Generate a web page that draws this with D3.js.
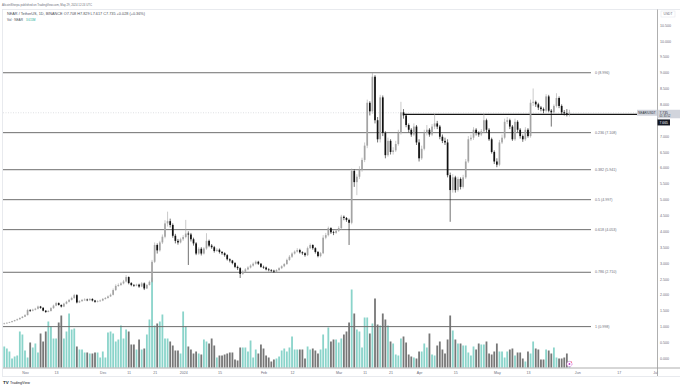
<!DOCTYPE html>
<html>
<head>
<meta charset="utf-8">
<script src="https://cdn.jsdelivr.net/npm/d3@7"></script>
<style>
  body { margin: 0; background: #fff; }
  svg { display: block; font-family: "Liberation Sans", Arial, sans-serif; }
</style>
</head>
<body>
<svg id="chart" width="680" height="388"></svg>
<script>
// NEAR / USDT daily, 2023-10-24 .. 2024-05-29
var firstDay = "2023-10-24";

var open = [
  1.08,1.10,1.12,1.14,1.17,1.20,1.23,1.27,1.31,1.36,
  1.52,1.50,1.53,1.56,1.63,1.59,1.50,1.46,1.49,1.58,
  1.66,1.74,1.68,1.63,1.72,1.78,1.84,1.90,1.99,1.76,
  1.80,1.84,1.85,1.83,1.87,1.82,1.78,1.80,1.82,1.87,
  1.90,1.95,2.00,2.15,2.28,2.31,2.36,2.42,2.56,2.37,
  2.31,2.29,2.32,2.26,2.36,2.20,2.31,2.41,3.04,3.57,
  3.40,3.65,3.83,4.25,4.32,4.20,3.86,3.70,3.65,3.75,
  3.82,3.93,3.90,3.75,3.62,3.30,3.45,3.30,3.46,3.70,
  3.55,3.50,3.38,3.42,3.35,3.31,3.25,3.12,3.08,3.00,
  2.88,2.84,2.66,2.73,2.80,2.86,2.92,2.98,3.04,2.98,
  2.88,2.86,2.80,2.78,2.76,2.73,2.78,2.84,2.90,2.97,
  3.10,3.20,3.30,3.36,3.41,3.34,3.31,3.25,3.47,3.57,
  3.47,3.35,3.22,3.31,3.80,3.88,4.10,3.97,3.95,4.02,
  4.10,4.46,4.42,4.36,4.27,5.90,5.55,5.72,5.95,6.25,
  6.70,8.05,7.78,8.87,7.50,6.90,8.22,7.10,6.40,6.85,
  6.50,6.55,6.75,7.10,7.75,7.65,7.35,7.20,7.05,7.30,
  6.80,6.30,6.60,7.10,7.20,7.05,7.30,7.40,7.30,6.98,
  6.85,6.80,5.77,5.30,5.70,5.30,5.65,5.40,5.70,6.20,
  6.90,6.95,7.20,7.10,7.05,7.15,7.50,7.20,6.90,6.50,
  6.20,6.10,6.80,6.95,7.45,7.50,7.30,6.90,7.45,7.20,
  7.00,6.90,7.20,7.00,8.05,8.08,8.00,7.90,7.85,7.80,
  8.25,7.80,7.75,7.95,8.20,7.95,7.75,7.72,7.708
];
var high = [
  1.12,1.13,1.15,1.18,1.21,1.25,1.29,1.33,1.39,1.56,
  1.55,1.56,1.59,1.66,1.65,1.61,1.52,1.52,1.61,1.69,
  1.78,1.76,1.70,1.75,1.81,1.87,1.94,2.03,2.02,1.83,
  1.87,1.89,1.88,1.90,1.89,1.84,1.83,1.85,1.90,1.93,
  1.98,2.04,2.20,2.33,2.36,2.40,2.47,2.62,2.58,2.40,
  2.34,2.35,2.35,2.40,2.39,2.34,2.45,3.10,3.65,3.62,
  3.70,3.90,4.35,4.62,4.40,4.25,3.92,3.76,3.80,3.88,
  4.36,4.00,3.95,3.80,3.66,3.50,3.50,3.50,3.94,3.74,
  3.60,3.54,3.47,3.46,3.38,3.34,3.28,3.15,3.10,3.03,
  2.92,2.87,2.78,2.84,2.90,2.96,3.02,3.08,3.07,3.00,
  2.92,2.89,2.84,2.81,2.79,2.81,2.87,2.93,3.00,3.14,
  3.25,3.34,3.40,3.47,3.45,3.37,3.34,3.52,3.62,3.59,
  3.50,3.38,3.35,3.88,3.95,4.15,4.13,4.02,4.07,4.16,
  4.52,4.50,4.45,4.40,5.98,5.95,5.80,6.05,6.32,6.80,
  8.15,8.10,8.99,8.92,7.60,8.30,8.28,7.15,6.95,6.90,
  6.65,6.85,7.20,8.08,7.85,7.70,7.40,7.25,7.40,7.35,
  6.90,6.70,7.20,7.35,7.25,7.38,7.70,7.48,7.35,7.05,
  6.95,6.90,5.85,5.80,5.75,5.72,5.70,5.78,6.28,7.00,
  7.05,7.28,7.25,7.15,7.22,7.70,7.55,7.25,6.95,6.55,
  6.30,6.88,7.05,7.55,7.60,7.55,7.35,7.55,7.50,7.25,
  7.05,7.28,7.25,8.15,8.50,8.12,8.05,7.95,7.90,8.32,
  8.30,7.85,8.00,8.35,8.25,8.00,7.82,7.85,7.829
];
var low = [
  1.07,1.09,1.11,1.13,1.16,1.19,1.22,1.26,1.30,1.35,
  1.46,1.48,1.51,1.54,1.56,1.48,1.43,1.45,1.47,1.56,
  1.64,1.66,1.60,1.61,1.70,1.76,1.82,1.87,1.73,1.74,
  1.78,1.81,1.80,1.81,1.79,1.75,1.76,1.78,1.80,1.85,
  1.88,1.93,1.98,2.12,2.25,2.28,2.33,2.39,2.33,2.27,
  2.25,2.27,2.22,2.24,2.15,2.18,2.29,2.38,3.00,3.30,
  3.36,3.60,3.78,4.15,4.12,3.80,3.62,3.58,3.62,3.70,
  3.78,2.94,3.68,3.55,3.25,3.26,3.24,3.27,3.42,3.50,
  3.45,3.33,3.35,3.30,3.26,3.20,3.08,3.02,2.96,2.84,
  2.78,2.53,2.63,2.70,2.77,2.83,2.89,2.95,2.94,2.85,
  2.82,2.77,2.74,2.72,2.69,2.71,2.75,2.81,2.87,2.94,
  3.07,3.16,3.27,3.33,3.30,3.26,3.20,3.22,3.44,3.42,
  3.30,3.18,3.18,3.28,3.75,3.84,3.92,3.88,3.92,3.98,
  4.05,4.35,4.30,3.57,4.22,5.40,5.14,5.65,5.88,6.18,
  6.62,7.65,7.70,7.40,6.80,6.80,7.00,6.30,6.35,6.42,
  6.42,6.50,6.70,7.05,7.55,7.28,7.12,6.98,7.00,6.72,
  6.20,6.25,6.55,7.02,6.98,7.00,7.22,7.22,6.90,6.78,
  6.72,5.70,4.30,5.22,5.22,5.25,5.32,5.35,5.65,6.15,
  6.85,6.88,7.02,6.98,7.00,7.10,7.12,6.85,6.45,6.12,
  6.02,6.05,6.75,6.90,7.38,7.22,6.85,6.85,7.12,6.92,
  6.82,6.85,6.95,6.95,7.95,7.92,7.82,7.78,7.72,7.75,
  7.75,7.30,7.70,7.90,7.88,7.68,7.65,7.62,7.617
];
var close = [
  1.10,1.12,1.14,1.17,1.20,1.23,1.27,1.31,1.36,1.52,
  1.50,1.53,1.56,1.63,1.59,1.50,1.46,1.49,1.58,1.66,
  1.74,1.68,1.63,1.72,1.78,1.84,1.90,1.99,1.76,1.80,
  1.84,1.85,1.83,1.87,1.82,1.78,1.80,1.82,1.87,1.90,
  1.95,2.00,2.15,2.28,2.31,2.36,2.42,2.56,2.37,2.31,
  2.29,2.32,2.26,2.36,2.20,2.31,2.41,3.04,3.57,3.40,
  3.65,3.83,4.25,4.32,4.20,3.86,3.70,3.65,3.75,3.82,
  3.93,3.90,3.75,3.62,3.30,3.45,3.30,3.46,3.70,3.55,
  3.50,3.38,3.42,3.35,3.31,3.25,3.12,3.08,3.00,2.88,
  2.84,2.66,2.73,2.80,2.86,2.92,2.98,3.04,2.98,2.88,
  2.86,2.80,2.78,2.76,2.73,2.78,2.84,2.90,2.97,3.10,
  3.20,3.30,3.36,3.41,3.34,3.31,3.25,3.47,3.57,3.47,
  3.35,3.22,3.31,3.80,3.88,4.10,3.97,3.95,4.02,4.10,
  4.46,4.42,4.36,4.27,5.90,5.55,5.72,5.95,6.25,6.70,
  8.05,7.78,8.87,7.50,6.90,8.22,7.10,6.40,6.85,6.50,
  6.55,6.75,7.10,7.75,7.65,7.35,7.20,7.05,7.30,6.80,
  6.30,6.60,7.10,7.20,7.05,7.30,7.40,7.30,6.98,6.85,
  6.80,5.77,5.30,5.70,5.30,5.65,5.40,5.70,6.20,6.90,
  6.95,7.20,7.10,7.05,7.15,7.50,7.20,6.90,6.50,6.20,
  6.10,6.80,6.95,7.45,7.50,7.30,6.90,7.45,7.20,7.00,
  6.90,7.20,7.00,8.05,8.08,8.00,7.90,7.85,7.80,8.25,
  7.80,7.75,7.95,8.20,7.95,7.75,7.72,7.708,7.735
];
// volume, millions of NEAR (approx)
var volume = [
  21,19,16,9,11,12,36,33,17,10,
  25,20,24,15,34,26,36,46,41,29,
  29,45,52,29,36,54,38,39,21,18,
  18,15,15,14,14,15,15,10,16,10,
  35,36,34,26,28,42,29,38,36,23,
  23,18,28,18,19,33,48,90,42,44,
  46,53,29,29,26,22,17,17,14,56,
  41,21,18,14,16,14,13,28,26,24,
  29,22,10,12,12,13,14,15,15,8,
  7,20,20,20,16,27,10,18,14,23,
  19,12,10,6,8,9,11,17,19,16,
  20,31,18,18,18,18,9,21,18,19,
  17,14,18,33,19,40,26,28,28,25,
  29,33,36,45,78,54,38,36,20,50,
  50,34,44,69,43,42,54,48,42,26,
  24,13,12,29,31,25,13,11,10,9,
  16,16,24,20,34,13,12,22,26,18,
  14,28,52,37,28,24,24,22,22,15,
  12,21,18,24,23,23,26,14,13,16,
  24,16,16,10,16,18,19,12,15,15,
  9,6,16,14,26,19,18,8,8,18,
  17,14,20,10,9,9,10,14,6
];

var fibRatios = [0, 0.236, 0.382, 0.5, 0.618, 0.786, 1];
var fibPrices = [8.996, 7.108, 5.941, 4.997, 4.053, 2.710, 0.998];

var priceTicks = [0,0.5,1,1.5,2,2.5,3,3.5,4,4.5,5,5.5,6,6.5,7,8,8.5,9,9.5,10,10.5];
var timeTicks = ["2023-11-01","2023-11-13","2023-12-01","2023-12-11","2023-12-21","2024-01-01",
                 "2024-01-15","2024-02-01","2024-02-12","2024-03-01","2024-03-11","2024-03-21",
                 "2024-04-01","2024-04-15","2024-05-01","2024-05-13","2024-06-01","2024-06-17","2024-07-01"];
var timeLabels = ["Nov","13","Dec","11","21","2024","15","Feb","12","Mar","11","21",
                  "Apr","15","May","13","Jun","17","Jul"];

var resistanceFrom = "2024-03-26";
var resistancePrice = 7.685;
var lastPrice = 7.735;

var headerTitle = "AltcoinSherpa published on TradingView.com, May 29, 2024 12:24 UTC";
var headerSymbol = "NEAR / TetherUS, 1D, BINANCE  O7.708 H7.829 L7.617 C7.735 +0.028 (+0.36%)";

// ----------------------------------------------------------------
var svg = d3.select("#chart");
var parse = d3.utcParse("%Y-%m-%d");
var day0 = parse(firstDay);
var days = close.map(function(d, i) { return d3.utcDay.offset(day0, i); });

var x = d3.scaleUtc()
    .domain([parse("2023-11-01"), parse("2024-07-01")])
    .range([25, 655]);
var y = d3.scaleLinear().domain([0, 10.5]).range([358.3, 25]);
var yVol = d3.scaleLinear().domain([0, 100]).range([367.5, 267.5]);

var upCandle = "#a4a4a4", downCandle = "#111111";
var upVol = "#8ad4ca", downVol = "#777777";
var txt = "#6a6d78";

// panel frame
svg.append("rect")
   .attr("x", 2.5).attr("y", 9.5).attr("width", 690).attr("height", 367)
   .attr("fill", "none").attr("stroke", "#e3e5ea").attr("stroke-width", 0.8);

// header
svg.append("text").attr("x", 2).attr("y", 6.3)
   .attr("font-size", 3.2).attr("fill", txt)
   .attr("textLength", 90).attr("lengthAdjust", "spacingAndGlyphs")
   .text(headerTitle);
svg.append("text").attr("x", 7).attr("y", 15.3)
   .attr("font-size", 3.6).attr("fill", "#4a4d57")
   .attr("textLength", 138).attr("lengthAdjust", "spacingAndGlyphs")
   .text(headerSymbol);
svg.append("text").attr("x", 7).attr("y", 20.6)
   .attr("font-size", 3.6).attr("fill", "#4a4d57")
   .attr("textLength", 16).attr("lengthAdjust", "spacingAndGlyphs")
   .text("Vol \u00b7 NEAR");
svg.append("text").attr("x", 26).attr("y", 20.6)
   .attr("font-size", 3.6).attr("fill", "#22ab94")
   .attr("textLength", 9.5).attr("lengthAdjust", "spacingAndGlyphs")
   .text("3.615M");

// volume
svg.append("g").selectAll("rect")
   .data(volume)
   .enter().append("rect")
   .attr("x", function(d, i) { return x(days[i]) - 0.9; })
   .attr("y", function(d) { return yVol(d); })
   .attr("width", 1.8)
   .attr("height", function(d) { return yVol(0) - yVol(d); })
   .attr("fill", function(d, i) { return close[i] >= open[i] ? upVol : downVol; });

// fib levels
var fib = svg.append("g");
fibPrices.forEach(function(p, i) {
  fib.append("line")
     .attr("x1", 3).attr("x2", 591)
     .attr("y1", y(p)).attr("y2", y(p))
     .attr("stroke", "#6e6e6e").attr("stroke-width", 1);
  fib.append("text")
     .attr("x", 595).attr("y", y(p) + 1.2)
     .attr("font-size", 3.6).attr("fill", txt)
     .text(fibRatios[i] + " (" + p.toFixed(3) + ")");
});

// last price dotted line
svg.append("line")
   .attr("x1", 3).attr("x2", 657)
   .attr("y1", y(lastPrice)).attr("y2", y(lastPrice))
   .attr("stroke", "#c8cad0").attr("stroke-width", 0.6)
   .attr("stroke-dasharray", "1,1.5");

// horizontal resistance
svg.append("line")
   .attr("x1", x(parse(resistanceFrom))).attr("x2", 657)
   .attr("y1", y(resistancePrice)).attr("y2", y(resistancePrice))
   .attr("stroke", "#151515").attr("stroke-width", 1.3);

// candles
var candles = svg.append("g").selectAll("g")
   .data(close)
   .enter().append("g");
candles.append("line")
   .attr("x1", function(d, i) { return x(days[i]); })
   .attr("x2", function(d, i) { return x(days[i]); })
   .attr("y1", function(d, i) { return y(high[i]); })
   .attr("y2", function(d, i) { return y(low[i]); })
   .attr("stroke", function(d, i) { return d >= open[i] ? upCandle : downCandle; })
   .attr("stroke-width", 0.6);
candles.append("rect")
   .attr("x", function(d, i) { return x(days[i]) - 0.85; })
   .attr("width", 1.7)
   .attr("y", function(d, i) { return y(Math.max(d, open[i])); })
   .attr("height", function(d, i) { return Math.max(0.7, Math.abs(y(d) - y(open[i]))); })
   .attr("fill", function(d, i) { return d >= open[i] ? upCandle : downCandle; });

// event marker
var mk = svg.append("g").attr("transform", "translate(" + x(parse("2024-05-29")) + ",364)");
mk.append("circle").attr("r", 2.6).attr("fill", "#fff")
  .attr("stroke", "#d65ad8").attr("stroke-width", 0.7).attr("stroke-dasharray", "1.2,0.6");
mk.append("circle").attr("r", 0.9).attr("fill", "#c23bd0");
mk.append("circle").attr("cx", 2).attr("cy", -2).attr("r", 0.6).attr("fill", "#f23645");

// time axis
var xAxis = d3.axisBottom(x)
   .tickValues(timeTicks.map(parse))
   .tickFormat(function(d, i) { return timeLabels[i]; })
   .tickSize(0).tickPadding(3);
var gx = svg.append("g").attr("transform", "translate(0,368)").call(xAxis);
gx.select(".domain").remove();
gx.selectAll("text").attr("font-size", 3.6).attr("fill", txt).attr("font-family", null);
svg.append("line").attr("x1", 3).attr("x2", 680).attr("y1", 368).attr("y2", 368)
   .attr("stroke", "#9a9a9a").attr("stroke-width", 0.8);

// price axis
var yAxis = d3.axisRight(y)
   .tickValues(priceTicks)
   .tickFormat(d3.format(".3f"))
   .tickSize(0).tickPadding(2.5);
var gy = svg.append("g").attr("transform", "translate(657.5,0)").call(yAxis);
gy.select(".domain").remove();
gy.selectAll("text").attr("font-size", 3.6).attr("fill", txt).attr("font-family", null);
svg.append("line").attr("x1", 657.5).attr("x2", 657.5).attr("y1", 9.5).attr("y2", 376)
   .attr("stroke", "#9a9a9a").attr("stroke-width", 0.8);

svg.append("rect").attr("x", 661).attr("y", 11).attr("width", 14).attr("height", 6)
   .attr("fill", "#fff").attr("stroke", "#e0e3eb").attr("stroke-width", 0.5);
svg.append("text").attr("x", 668).attr("y", 15.2).attr("text-anchor", "middle")
   .attr("font-size", 3.3).attr("fill", txt).text("USDT");

// price tags
var ly = y(lastPrice);
svg.append("rect").attr("x", 637).attr("y", ly - 3).attr("width", 20).attr("height", 6)
   .attr("fill", "#d1d4dc");
svg.append("text").attr("x", 647).attr("y", ly + 1.2).attr("text-anchor", "middle")
   .attr("font-size", 3).attr("fill", "#2a2e39").text("NEAR/USDT");
svg.append("rect").attr("x", 657.5).attr("y", ly - 3).attr("width", 22.5).attr("height", 8.5)
   .attr("fill", "#d1d4dc");
svg.append("text").attr("x", 659.5).attr("y", ly + 1.2)
   .attr("font-size", 3.4).attr("fill", "#2a2e39").text(lastPrice.toFixed(3));
svg.append("text").attr("x", 659.5).attr("y", ly + 4.6)
   .attr("font-size", 2.8).attr("fill", "#2a2e39").text("01:35:52");
var ry = y(7.43);
svg.append("rect").attr("x", 657.5).attr("y", ry - 3).attr("width", 12.5).attr("height", 6)
   .attr("fill", "#131722");
svg.append("text").attr("x", 659.5).attr("y", ry + 1.2)
   .attr("font-size", 3.4).attr("fill", "#fff").text("7.665");

// footer logo
svg.append("text").attr("x", 3).attr("y", 384).attr("font-size", 4.4)
   .attr("font-weight", "bold").attr("fill", "#131722").text("TV");
svg.append("text").attr("x", 10).attr("y", 384).attr("font-size", 3.6)
   .attr("fill", "#131722").text("TradingView");
</script>
</body>
</html>
